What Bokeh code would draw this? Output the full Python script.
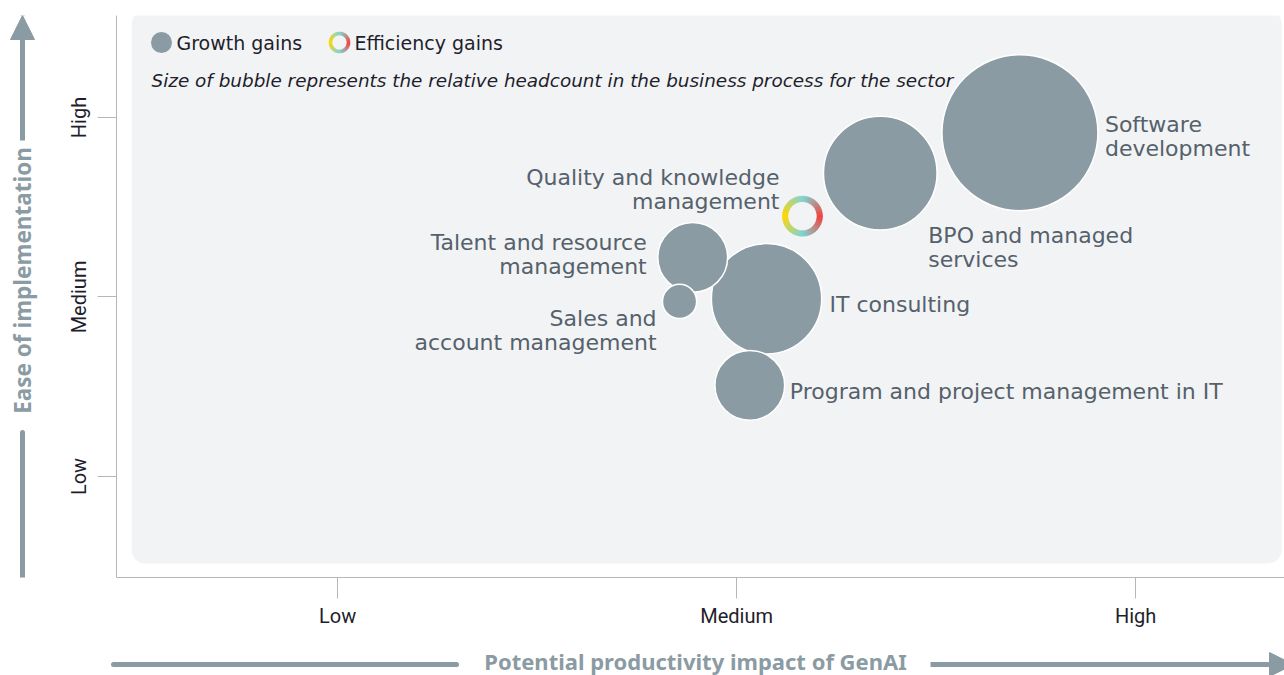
import math
from bokeh.plotting import figure
from bokeh.layouts import column, row
from bokeh.models import (ColumnDataSource, FixedTicker, Label, Arrow, NormalHead,
                          BoxAnnotation)
from bokeh.core.properties import value
from bokeh.embed import file_html
from bokeh.resources import INLINE

# ---------------- data ----------------
processes = ["Software development", "BPO and managed services",
             "Quality and knowledge management", "Talent and resource management",
             "IT consulting", "Sales and account management",
             "Program and project management in IT"]
label_lines = [["Software", "development"], ["BPO and managed", "services"],
               ["Quality and knowledge", "management"], ["Talent and resource", "management"],
               ["IT consulting"], ["Sales and", "account management"],
               ["Program and project management in IT"]]
impact = [2.71, 2.36, 2.165, 1.89, 2.075, 1.857, 2.033]      # x: productivity impact (1=Low, 3=High)
ease = [2.915, 2.69, 2.45, 2.22, 1.99, 1.975, 1.508]        # y: ease of implementation
headcount = [100, 53, 6.6, 20, 50, 4.8, 20]                   # relative headcount
gain_type = ["Growth", "Growth", "Efficiency", "Growth", "Growth", "Growth", "Growth"]

tick_values = [1, 2, 3]
x_tick_labels = ["Low", "Medium", "High"]
y_tick_labels = ["Low", "Medium", "High"]

x_title = "Potential productivity impact of GenAI"
y_title = "Ease of implementation"

# ---------------- styles ----------------
GRAY = "#8A9BA3"
LABEL_C = "#55616b"
TEXT_C = "#1e1e2c"
FONT = "DejaVu Sans"
TITLE_FONT = "Noto Sans"

# label placement (screen offsets of the text block from bubble centre) and alignment
lab_dx = [85, 48, -23, -46, 63, -23, 40]
lab_dy = [4, 74, -27, -3, 6, 29, 6]
lab_align = ["left", "left", "right", "right", "left", "right", "left"]
LINE_H = 24

TOP_H = 640
LEFT_W = 50
FRAME_TOP, FRAME_BOTTOM = 15, 577

p = figure(width=1284 - LEFT_W, height=TOP_H, x_range=(0.446, 3.373), y_range=(0.437, 3.568),
           output_backend="svg", toolbar_location=None,
           min_border_left=116 - LEFT_W, min_border_right=0, min_border_top=FRAME_TOP,
           min_border_bottom=TOP_H - FRAME_BOTTOM)
p.outline_line_color = None
p.grid.visible = False
p.background_fill_color = "white"
p.border_fill_color = "white"

# panel background
p.add_layout(BoxAnnotation(left=0.484, right=3.366, bottom=0.515, top=3.6,
                           fill_color="#F2F3F5", fill_alpha=1, line_alpha=0,
                           border_radius=14, level="underlay"))

for ax, labels in ((p.xaxis, x_tick_labels), (p.yaxis, y_tick_labels)):
    ax.ticker = FixedTicker(ticks=tick_values)
    ax.major_label_overrides = {t: l for t, l in zip(tick_values, labels)}
    ax.minor_tick_line_color = None
    ax.axis_line_color = "#b4b8bc"
    ax.major_tick_line_color = "#b4b8bc"
    ax.major_tick_in = 0
    ax.major_label_text_font = "Roboto"
    ax.major_label_text_font_size = "20px"
    ax.major_label_text_color = TEXT_C
p.xaxis.major_tick_out = 21
p.yaxis.major_tick_out = 19
p.xaxis.major_label_standoff = 5
p.yaxis.major_label_standoff = 6
p.yaxis.major_label_orientation = "vertical"

# ---------------- bubbles ----------------
scale = 15.6
grow_idx = [i for i, g in enumerate(gain_type) if g == "Growth"]
grow_idx.sort(key=lambda i: -headcount[i])
gsrc = ColumnDataSource(dict(
    x=[impact[i] for i in grow_idx], y=[ease[i] for i in grow_idx],
    size=[scale * math.sqrt(headcount[i]) for i in grow_idx],
    name=[processes[i] for i in grow_idx]))
p.scatter("x", "y", size="size", source=gsrc, fill_color=GRAY, line_color="white",
          line_width=1.5)

# efficiency ring (gradient yellow -> teal -> red)
def ring_color(deg):
    stops = [(0, (240, 65, 60)), (90, (127, 211, 211)), (180, (255, 214, 0)),
             (270, (127, 211, 211)), (360, (240, 65, 60))]
    for (a0, c0), (a1, c1) in zip(stops[:-1], stops[1:]):
        if a0 <= deg <= a1:
            t = (deg - a0) / (a1 - a0)
            c = [round(c0[k] + (c1[k] - c0[k]) * t) for k in range(3)]
            return "#%02x%02x%02x" % tuple(c)

NSEG = 72
def ring_source(xs, ys, r_out, r_in):
    d = dict(x=[], y=[], s=[], e=[], c=[], ro=[], ri=[])
    for x, y in zip(xs, ys):
        for k in range(NSEG):
            a0 = 360 * k / NSEG
            a1 = 360 * (k + 1) / NSEG + 0.6
            d["x"].append(x); d["y"].append(y)
            d["s"].append(math.radians(a0)); d["e"].append(math.radians(a1))
            d["c"].append(ring_color((a0 + a1) / 2 % 360))
            d["ro"].append(r_out); d["ri"].append(r_in)
    return ColumnDataSource(d)

def draw_ring(fig, src):
    fig.annular_wedge("x", "y", inner_radius="ri", outer_radius="ro", start_angle="s",
                      end_angle="e", inner_radius_units="screen", outer_radius_units="screen",
                      source=src, fill_color="c", line_color="c", line_width=0.5)

eff_idx = [i for i, g in enumerate(gain_type) if g == "Efficiency"]
for i in eff_idx:
    ro = scale * math.sqrt(headcount[i]) / 2
    draw_ring(p, ring_source([impact[i]], [ease[i]], ro, ro - 5.5))

# bubble labels, one row per text line
for align in ("left", "right"):
    d = dict(x=[], y=[], t=[], dx=[], dy=[])
    for i in range(len(processes)):
        if lab_align[i] != align:
            continue
        n = len(label_lines[i])
        for k, line in enumerate(label_lines[i]):
            d["x"].append(impact[i]); d["y"].append(ease[i]); d["t"].append(line)
            d["dx"].append(lab_dx[i]); d["dy"].append(lab_dy[i] + (k - (n - 1) / 2) * LINE_H)
    p.text("x", "y", text="t", x_offset="dx", y_offset="dy", source=ColumnDataSource(d),
           text_align=align, text_baseline="middle", text_font=value(FONT),
           text_font_size="22px", text_color=LABEL_C)

# ---------------- legend (frame screen units: origin bottom-left of frame) ----------------
FL, FB = 116, FRAME_BOTTOM   # page px of frame left / bottom
def sx(px): return px - FL
def sy(py): return FB - py

leg_y = 42
p.add_layout(Label(x=sx(176), y=sy(leg_y), x_units="screen", y_units="screen", text="Growth gains",
                   text_font=FONT, text_font_size="19px", text_color=TEXT_C, text_baseline="middle"))
p.add_layout(Label(x=sx(354), y=sy(leg_y), x_units="screen", y_units="screen", text="Efficiency gains",
                   text_font=FONT, text_font_size="19px", text_color=TEXT_C, text_baseline="middle"))
p.add_layout(Label(x=sx(151), y=sy(80), x_units="screen", y_units="screen",
                   text="Size of bubble represents the relative headcount in the business process for the sector",
                   text_font=FONT, text_font_size="18.4px", text_font_style="italic",
                   text_color=TEXT_C, text_baseline="middle"))
xr, yr = p.x_range, p.y_range
def dx(px): return xr.start + (px - FL) / 1168 * (xr.end - xr.start)
def dy(py): return yr.start + (FB - py) / 562 * (yr.end - yr.start)
p.scatter([dx(161)], [dy(leg_y)], size=21, fill_color=GRAY, line_color=None)
draw_ring(p, ring_source([dx(339)], [dy(leg_y)], 10.5, 7.5))

# ---------------- axis titles with arrows (side strips) ----------------
def strip(w, h, y_top, y_bottom):
    f = figure(width=w, height=h, x_range=(0, w), y_range=(y_bottom, y_top),
               output_backend="svg", toolbar_location=None, x_axis_type=None,
               y_axis_type=None, min_border=0)
    f.outline_line_color = None
    f.grid.visible = False
    f.background_fill_color = "white"
    f.border_fill_color = "white"
    return f

head = dict(size=24, fill_color=GRAY, line_color=GRAY)

# the strip's frame is aligned with the main frame (page y 15..577)
left = strip(LEFT_W, TOP_H, FRAME_TOP, FRAME_BOTTOM)
left.text([22], [280], text=[y_title], angle=math.pi / 2, text_align="center",
          text_baseline="middle", text_font=value(TITLE_FONT), text_font_size="22.5px",
          text_font_style="bold", text_color=GRAY)
left.add_layout(Arrow(x_start=22, y_start=140, x_end=22, y_end=15, end=NormalHead(**head),
                      line_color=GRAY, line_width=5))
left.add_layout(Arrow(x_start=22, y_start=432, x_end=22, y_end=582, end=None,
                      line_color=GRAY, line_width=5, line_cap="round"))

bottom = strip(1284, 675 - TOP_H, TOP_H, 675)
bottom.text([695], [660], text=[x_title], text_align="center",
            text_baseline="middle", text_font=value(TITLE_FONT), text_font_size="22px",
            text_font_style="bold", text_color=GRAY)
bottom.add_layout(Arrow(x_start=113, y_start=664, x_end=456, y_end=664, end=None,
                        line_color=GRAY, line_width=5, line_cap="round"))
bottom.add_layout(Arrow(x_start=930, y_start=664, x_end=1293, y_end=664, end=NormalHead(**head),
                        line_color=GRAY, line_width=5))

layout = column(row(left, p, spacing=0), bottom, spacing=0)
open("out.html", "w").write(file_html(layout, INLINE))
